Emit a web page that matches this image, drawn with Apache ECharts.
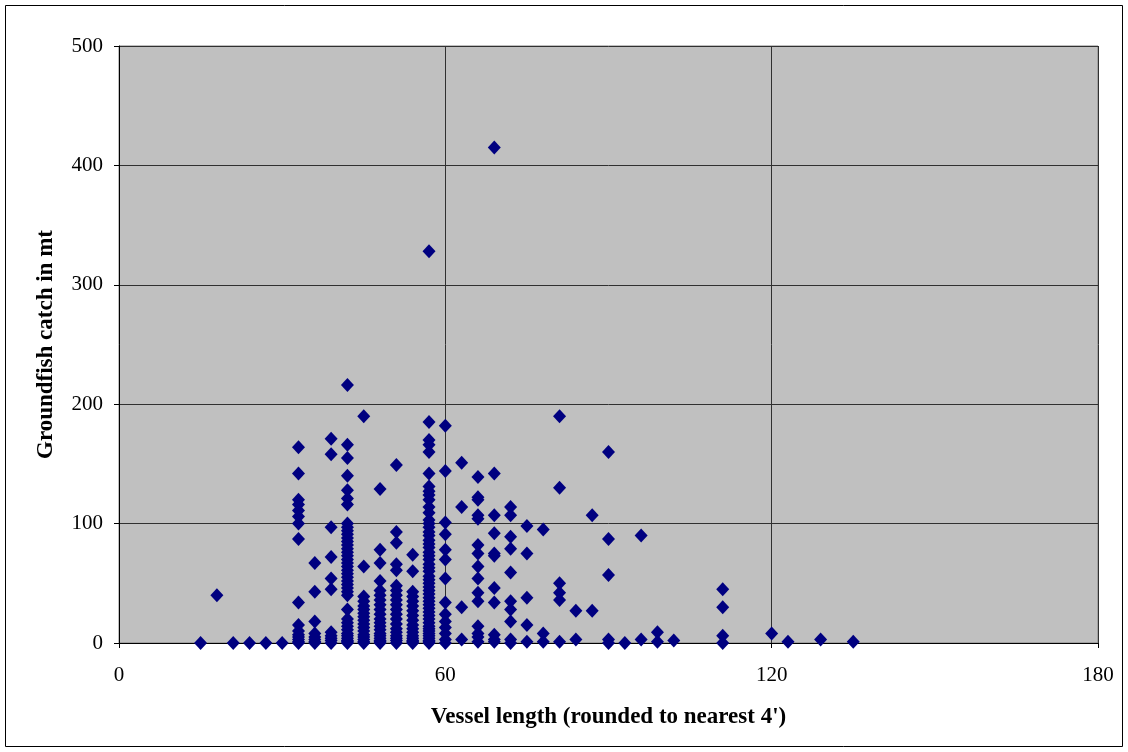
<!DOCTYPE html>
<html>
<head>
<meta charset="utf-8">
<script src="https://cdn.jsdelivr.net/npm/echarts@6/dist/echarts.min.js"></script>
<style>
html,body{margin:0;padding:0;background:#fff;}
#c{width:1128px;height:752px;}
</style>
</head>
<body>
<div id="c"></div>
<script>
// Vessel lengths (x columns) and groundfish catch values (mt) per length
const vesselLengths = [15, 18, 21, 24, 27, 30, 33, 36, 39, 42, 45, 48, 51, 54, 57, 60, 63, 66, 69, 72, 75, 78, 81, 84, 87, 90, 93, 96, 99, 102, 111, 120, 123, 129, 135];
const catchByLength = [
  [0],
  [40],
  [0],
  [0],
  [0],
  [0],
  [164, 142, 120, 116, 111, 106, 100, 87, 34, 15, 10, 7, 5, 3, 1, 0],
  [67, 43, 18, 8, 5, 3, 1, 0],
  [171, 158, 97, 72, 54, 45, 9, 6, 4, 2, 0],
  [216, 166, 155, 140, 128, 121, 116, 100, 97, 94, 91, 88, 85, 82, 79, 76, 73, 70, 67, 64, 61, 58, 55, 52, 49, 46, 43, 40, 28, 20, 17, 14, 11, 8, 6, 4, 2, 1, 0],
  [190, 64, 39, 35, 31, 28, 25, 22, 19, 16, 13, 10, 7, 5, 3, 1, 0],
  [129, 78, 67, 52, 44, 40, 36, 32, 28, 24, 20, 17, 14, 11, 8, 6, 4, 2, 1, 0],
  [149, 93, 84, 66, 61, 48, 44, 40, 36, 32, 28, 24, 20, 16, 12, 9, 6, 4, 2, 0],
  [74, 60, 43, 39, 35, 31, 27, 23, 19, 15, 12, 9, 6, 4, 2, 1, 0],
  [328, 185, 170, 166, 160, 142, 131, 127, 124, 120, 114, 109, 103, 100, 97, 93, 90, 86, 83, 80, 76, 73, 70, 66, 63, 60, 56, 53, 50, 47, 44, 41, 38, 35, 32, 29, 26, 23, 20, 17, 14, 12, 10, 8, 6, 4, 2, 1, 0],
  [182, 144, 101, 91, 78, 70, 54, 34, 24, 18, 13, 8, 3, 0],
  [151, 114, 30, 3],
  [139, 122, 120, 107, 104, 82, 75, 64, 54, 42, 35, 14, 8, 5, 1],
  [415, 142, 107, 92, 75, 73, 46, 34, 7, 3, 1],
  [114, 107, 89, 79, 59, 35, 28, 18, 3, 0],
  [98, 75, 38, 15, 1],
  [95, 8, 1],
  [190, 130, 50, 42, 36, 1],
  [27, 3],
  [107, 27],
  [160, 87, 57, 3, 0],
  [0],
  [90, 3],
  [9, 1],
  [2],
  [45, 30, 6, 0],
  [8],
  [1],
  [3],
  [1]
];
const xTicks = [0, 60, 120, 180];
const yTicks = [0, 100, 200, 300, 400, 500];

const points = [];
vesselLengths.forEach((len, i) => {
  catchByLength[i].forEach(v => points.push([len, v]));
});

const chart = echarts.init(document.getElementById('c'), null, {renderer: 'canvas'});
const font = '"Liberation Serif", "Times New Roman", serif';
chart.setOption({
  animation: false,
  backgroundColor: '#ffffff',
  graphic: [{
    type: 'rect',
    shape: {x: 5.5, y: 5.5, width: 1117, height: 741},
    style: {fill: 'none', stroke: '#000', lineWidth: 1},
    silent: true, z: -1
  }],
  grid: {
    left: 119, top: 46, width: 979, height: 597,
    show: true, backgroundColor: '#c0c0c0', borderColor: '#808080', borderWidth: 1
  },
  xAxis: {
    type: 'value', min: xTicks[0], max: xTicks[xTicks.length - 1], interval: 60,
    name: "Vessel length (rounded to nearest 4')",
    nameLocation: 'middle', nameGap: 63,
    nameTextStyle: {fontFamily: font, fontSize: 23, fontWeight: 'bold', color: '#000'},
    axisLine: {show: true, onZero: false, lineStyle: {color: '#000', width: 1}},
    axisTick: {show: true, inside: false, length: 5, lineStyle: {color: '#000'}},
    axisLabel: {fontFamily: font, fontSize: 21, color: '#000', margin: 22},
    splitLine: {show: true, lineStyle: {color: '#303030', width: 1}}
  },
  yAxis: {
    type: 'value', min: yTicks[0], max: yTicks[yTicks.length - 1], interval: 100,
    name: 'Groundfish catch in mt',
    nameLocation: 'middle', nameGap: 61, nameRotate: 90,
    nameTextStyle: {fontFamily: font, fontSize: 23, fontWeight: 'bold', color: '#000'},
    axisLine: {show: true, lineStyle: {color: '#000', width: 1}},
    axisTick: {show: true, inside: false, length: 5, lineStyle: {color: '#000'}},
    axisLabel: {fontFamily: font, fontSize: 21, color: '#000', margin: 16},
    splitLine: {show: true, lineStyle: {color: '#303030', width: 1}}
  },
  series: [{
    type: 'scatter',
    data: points,
    symbol: 'diamond',
    symbolSize: [13, 14],
    itemStyle: {color: '#000080', opacity: 1},
    clip: false
  }]
});
</script>
</body>
</html>
